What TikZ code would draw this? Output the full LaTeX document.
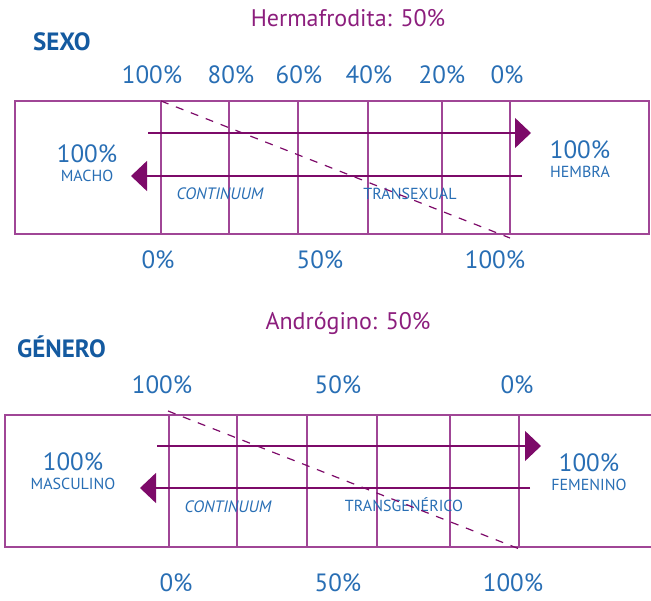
\documentclass[tikz,border=0pt]{standalone}
\usepackage{fontspec}
\setmainfont{PT Sans}
\usetikzlibrary{arrows.meta}
\definecolor{axisblue}{RGB}{40,110,180}
\definecolor{headblue}{RGB}{20,90,160}
\definecolor{framepurple}{RGB}{160,70,150}
\definecolor{arrowpurple}{RGB}{125,10,105}
\definecolor{titlepurple}{RGB}{140,30,125}

\begin{document}
\begin{tikzpicture}[
    x=1pt,y=-1pt,
    pct/.style={text=axisblue,font=\fontsize{25}{27}\selectfont,inner sep=0pt},
    pole/.style={text=axisblue,font=\fontsize{16}{18}\selectfont,inner sep=0pt},
    zone/.style={text=axisblue,font=\fontsize{16}{18}\selectfont,inner sep=0pt},
    head/.style={text=headblue,font=\fontsize{25}{27}\selectfont\bfseries,inner sep=0pt,anchor=west},
    mid/.style={text=titlepurple,font=\fontsize{24}{26}\selectfont,inner sep=0pt},
    frame/.style={draw=framepurple,line width=1.3pt},
    grid/.style={draw=framepurple,line width=1.1pt},
    axis/.style={draw=arrowpurple,line width=1.3pt,-{Triangle[length=16pt,width=30pt]}},
    diag/.style={draw=arrowpurple,line width=1.2pt,dash pattern=on 8pt off 8pt}
]
\useasboundingbox (0,0) rectangle (651,601);

% SEXO
\node[mid] (herma) at (348,18) {Hermafrodita: 50\%};
\node[head] (sexo) at (33,42) {SEXO};
\node[pct] (s100) at (152,75) {100\%};
\node[pct] (s80) at (231,75) {80\%};
\node[pct] (s60) at (299,75) {60\%};
\node[pct] (s40) at (369,75) {40\%};
\node[pct] (s20) at (442,75) {20\%};
\node[pct] (s0) at (507,75) {0\%};
\draw[frame] (15,101) rectangle (649,234);
\draw[grid] (161,101) -- (161,234);
\draw[grid] (229,101) -- (229,234);
\draw[grid] (298,101) -- (298,234);
\draw[grid] (368,101) -- (368,234);
\draw[grid] (442,101) -- (442,234);
\draw[grid] (510,101) -- (510,234);
\node[pct] (machopct) at (87,154) {100\%};
\node[pole] (macho) at (87,176) {MACHO};
\node[pct] (hembrapct) at (580,150) {100\%};
\node[pole] (hembra) at (580,172) {HEMBRA};
\node[zone,font=\fontsize{16.5}{18}\selectfont\itshape] (scont) at (220,194) {CONTINUUM};
\node[zone] (trans) at (410,194) {TRANSEXUAL};
\coordinate (sa1) at (148,133);
\coordinate (sa2) at (531,133);
\coordinate (sb1) at (522,176);
\coordinate (sb2) at (131,176);
\draw[axis] (sa1) -- (sa2);
\draw[axis] (sb1) -- (sb2);
\coordinate (sd1) at (161,101);
\coordinate (sd2) at (510,238);
\draw[diag] (sd1) -- (sd2);
\node[pct] (sb0) at (158,260) {0\%};
\node[pct] (sb50) at (320,260) {50\%};
\node[pct] (sb100) at (495,260) {100\%};

% GENERO
\node[mid] (andro) at (348,323) {Andrógino: 50\%};
\node[head] (genero) at (17,347) {GÉNERO};
\node[pct] (g100) at (162,385) {100\%};
\node[pct] (g50) at (338,385) {50\%};
\node[pct] (g0) at (517,385) {0\%};
\draw[frame] (5,415) rectangle (656,547);
\draw[grid] (169,415) -- (169,547);
\draw[grid] (237,415) -- (237,547);
\draw[grid] (307,415) -- (307,547);
\draw[grid] (377,415) -- (377,547);
\draw[grid] (450,415) -- (450,547);
\draw[grid] (519,415) -- (519,547);
\node[pct] (mascpct) at (73,462) {100\%};
\node[pole] (masc) at (73,484) {MASCULINO};
\node[pct] (fempct) at (589,463) {100\%};
\node[pole] (fem) at (589,485) {FEMENINO};
\node[zone,font=\fontsize{16.5}{18}\selectfont\itshape] (gcont) at (228,507) {CONTINUUM};
\node[zone] (transg) at (404,505) {TRANSGENÉRICO};
\coordinate (ga1) at (157,446);
\coordinate (ga2) at (541,446);
\coordinate (gb1) at (530,488);
\coordinate (gb2) at (140,488);
\draw[axis] (ga1) -- (ga2);
\draw[axis] (gb1) -- (gb2);
\coordinate (gd1) at (168,411);
\coordinate (gd2) at (522,550);
\draw[diag] (gd1) -- (gd2);
\node[pct] (gb0) at (176,583) {0\%};
\node[pct] (gb50) at (338,583) {50\%};
\node[pct] (gb100) at (513,583) {100\%};
\end{tikzpicture}
\end{document}
